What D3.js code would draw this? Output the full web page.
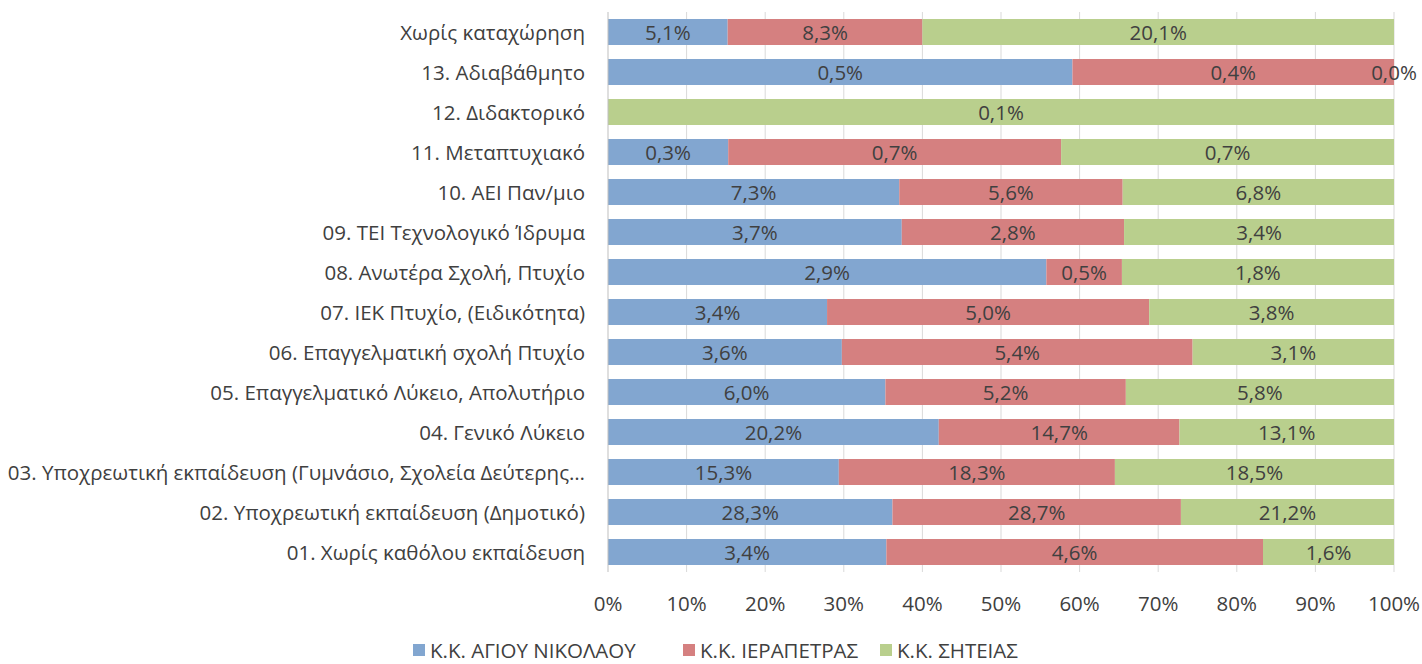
<!DOCTYPE html>
<html><head><meta charset="utf-8">
<script src="https://cdn.jsdelivr.net/npm/d3@7"></script>
<style>body{margin:0;background:#fff}svg text{font-family:"Open Sans",sans-serif;fill:#404040}</style>
</head><body><svg id="c" width="1422" height="664"></svg>
<script>
const categories = ["Χωρίς καταχώρηση","13. Αδιαβάθμητο","12. Διδακτορικό","11. Μεταπτυχιακό","10. ΑΕΙ Παν/μιο","09. ΤΕΙ Τεχνολογικό Ίδρυμα","08. Ανωτέρα Σχολή, Πτυχίο","07. ΙΕΚ Πτυχίο, (Ειδικότητα)","06. Επαγγελματική σχολή Πτυχίο","05. Επαγγελματικό Λύκειο, Απολυτήριο","04. Γενικό Λύκειο","03. Υποχρεωτική εκπαίδευση (Γυμνάσιο, Σχολεία Δεύτερης…","02. Υποχρεωτική εκπαίδευση (Δημοτικό)","01. Χωρίς καθόλου εκπαίδευση"];
const seriesNames = ["Κ.Κ. ΑΓΙΟΥ ΝΙΚΟΛΑΟΥ","Κ.Κ. ΙΕΡΑΠΕΤΡΑΣ","Κ.Κ. ΣΗΤΕΙΑΣ"];
const agiosNikolaos = [5.1,0.52,null,0.26,7.3,3.7,2.9,3.4,3.6,6.0,20.2,15.3,28.3,3.4];
const ierapetra     = [8.3,0.36,null,0.72,5.6,2.8,0.5,5.0,5.4,5.2,14.7,18.3,28.7,4.6];
const siteia        = [20.1,0.0,0.1,0.72,6.8,3.4,1.8,3.8,3.1,5.8,13.1,18.5,21.2,1.6];
const colors = ["#82a6d0","#d58080","#b9cf8d"];
const tickValues = [0,0.1,0.2,0.3,0.4,0.5,0.6,0.7,0.8,0.9,1];

const svg = d3.select("#c");
const x = d3.scaleLinear().domain([0,1]).range([608,1394]);
const y = d3.scaleBand().domain(categories).range([12,572]).paddingInner(0.35).paddingOuter(0.175);
const fmt = v => d3.format(".1f")(v).replace(".",",")+"%";
const FS = 20.5;

// gridlines
svg.append("g").selectAll("line").data(tickValues.slice(1)).join("line")
  .attr("x1",d=>x(d)).attr("x2",d=>x(d)).attr("y1",12).attr("y2",572)
  .attr("stroke","#d9d9d9").attr("stroke-width",1);

const series = [agiosNikolaos, ierapetra, siteia];
const rows = categories.map((c,i)=>{
  const vals = series.map(s=>s[i]);
  const total = d3.sum(vals.map(v=>v||0));
  let acc = 0;
  return vals.map((v,k)=>{ const x0=acc/total; acc += (v||0); return {c, k, v, x0, x1: acc/total}; });
});
const segs = rows.flat();
svg.append("g").selectAll("rect").data(segs.filter(d=>d.v!==null)).join("rect")
  .attr("x",d=>x(d.x0)).attr("width",d=>x(d.x1)-x(d.x0))
  .attr("y",d=>y(d.c)).attr("height",y.bandwidth()).attr("fill",d=>colors[d.k]);

// axis line at 0
svg.append("line").attr("x1",x(0)).attr("x2",x(0)).attr("y1",12).attr("y2",572).attr("stroke","#bfbfbf");

svg.append("g").selectAll("text").data(segs.filter(d=>d.v!==null)).join("text")
  .attr("x",d=>(x(d.x0)+x(d.x1))/2).attr("y",d=>y(d.c)+y.bandwidth()/2)
  .attr("text-anchor","middle").attr("dominant-baseline","central")
  .attr("font-size",FS).text(d=>fmt(d.v));

// category labels
svg.append("g").selectAll("text").data(categories).join("text")
  .attr("x",585).attr("y",d=>y(d)+y.bandwidth()/2).attr("text-anchor","end")
  .attr("dominant-baseline","central").attr("font-size",FS).text(d=>d);

// x tick labels
svg.append("g").selectAll("text").data(tickValues).join("text")
  .attr("x",d=>x(d)).attr("y",603).attr("text-anchor","middle").attr("dominant-baseline","central")
  .attr("font-size",FS).text(d=>d3.format(".0%")(d));

// legend
const legX = [413,683,880];
const lg = svg.append("g").selectAll("g").data(seriesNames).join("g").attr("transform",(d,i)=>`translate(${legX[i]},650)`);
lg.append("rect").attr("x",0).attr("y",-6).attr("width",12).attr("height",12).attr("fill",(d,i)=>colors[i]);
lg.append("text").attr("x",17).attr("y",0).attr("dominant-baseline","central").attr("font-size",FS).text(d=>d);
</script></body></html>
